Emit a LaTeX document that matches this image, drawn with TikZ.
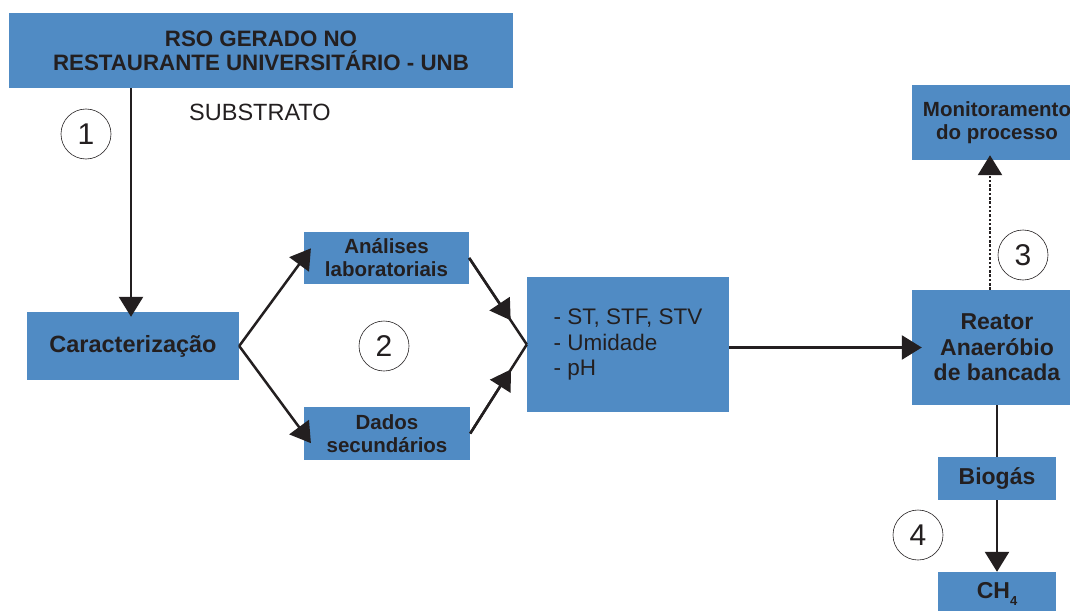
\documentclass[tikz,border=0pt]{standalone}
\usepackage{fontspec}
\setmainfont{Liberation Sans}
\usetikzlibrary{arrows.meta,calc}
\definecolor{boxblue}{RGB}{80,139,196}
\definecolor{ink}{RGB}{35,31,32}
\begin{document}
\begin{tikzpicture}[x=1pt,y=-1pt,
  box/.style={fill=boxblue, draw=none, inner sep=0pt, text=ink, align=center},
  bsize/.style 2 args={font=\bfseries\fontsize{#1}{#2}\selectfont},
  link/.style={draw=ink, line width=2.5pt},
  arr/.style={link, -{Triangle[length=20pt,width=24pt]}},
  num/.style={circle, draw=ink, line width=0.6pt, minimum size=50pt, inner sep=0pt,
              text=ink, font=\fontsize{30}{30}\selectfont}
]
% page frame
\clip (0,0) rectangle (1070,610);
\fill[white] (0,0) rectangle (1070,610);

% boxes
\node[box, bsize={22.3}{24}, minimum width=504pt, minimum height=75pt] (rso) at (261,50.5)
  {RSO GERADO NO\\RESTAURANTE UNIVERSITÁRIO - UNB};
\node[box, bsize={23.5}{26}, minimum width=212pt, minimum height=68pt] (car) at (133,346)
  {Caracterização};
\node[box, bsize={20.5}{23}, minimum width=165pt, minimum height=52pt] (lab) at (386.5,258)
  {Análises\\laboratoriais};
\node[box, bsize={20.5}{23}, minimum width=166pt, minimum height=53pt] (sec) at (387,433.5)
  {Dados\\secundários};
\node[box, font=\fontsize{22.5}{25.5}\selectfont, align=left, minimum width=202pt, minimum height=135pt] (par) at (628,344.5)
  {- ST, STF, STV\\- Umidade\\- pH};
\node[box, bsize={20.5}{23}, minimum width=170pt, minimum height=75pt] (mon) at (997,122.5)
  {Monitoramento\\do processo};
\node[box, bsize={23}{25.5}, minimum width=170pt, minimum height=115pt] (rea) at (997,347.5)
  {Reator\\Anaeróbio\\de bancada};
\node[box, bsize={23}{26}, minimum width=118pt, minimum height=43pt] (bio) at (997,478.5)
  {Biogás};
\node[box, bsize={23}{26}, minimum width=118pt, minimum height=44pt] (ch4) at (997,594)
  {CH\raisebox{-0.28em}{\fontsize{13}{13}\selectfont 4}};

% free labels
\node[anchor=west, inner sep=0pt, text=ink, font=\fontsize{23.5}{24}\selectfont] (sub) at (189,112) {SUBSTRATO};
\node[num] (n1) at (86,134) {1};
\node[num] (n2) at (384,346) {2};
\node[num] (n3) at (1023,255) {3};
\node[num] (n4) at (918,535) {4};

% connectors
\coordinate (dotx) at (990,0);
\coordinate (join) at (par.west);
\draw[arr, shorten >=-5pt] (rso.south -| 131,0) -- (car.north -| 131,0);
\draw[arr, shorten >=-12pt] (car.east) -- (lab.west);
\draw[arr, shorten >=-12pt] (car.east) -- (sec.west);
\draw[link] (lab.east) -- (join);
\draw[link] (sec.east) -- (join);
\draw[arr] (lab.east) -- ($(lab.east)!0.72!(join)$);
\draw[arr] (sec.east) -- ($(sec.east)!0.72!(join)$);
\draw[arr, shorten >=-10pt] (par.east |- rea.west) -- (rea.west);
\draw[arr, shorten >=-5pt, dash pattern=on 2.5pt off 1.8pt] (rea.north -| dotx) -- (mon.south -| dotx);
\draw[link] (rea.south) -- (bio.north);
\draw[arr] (bio.south) -- (ch4.north);
\end{tikzpicture}
\end{document}
